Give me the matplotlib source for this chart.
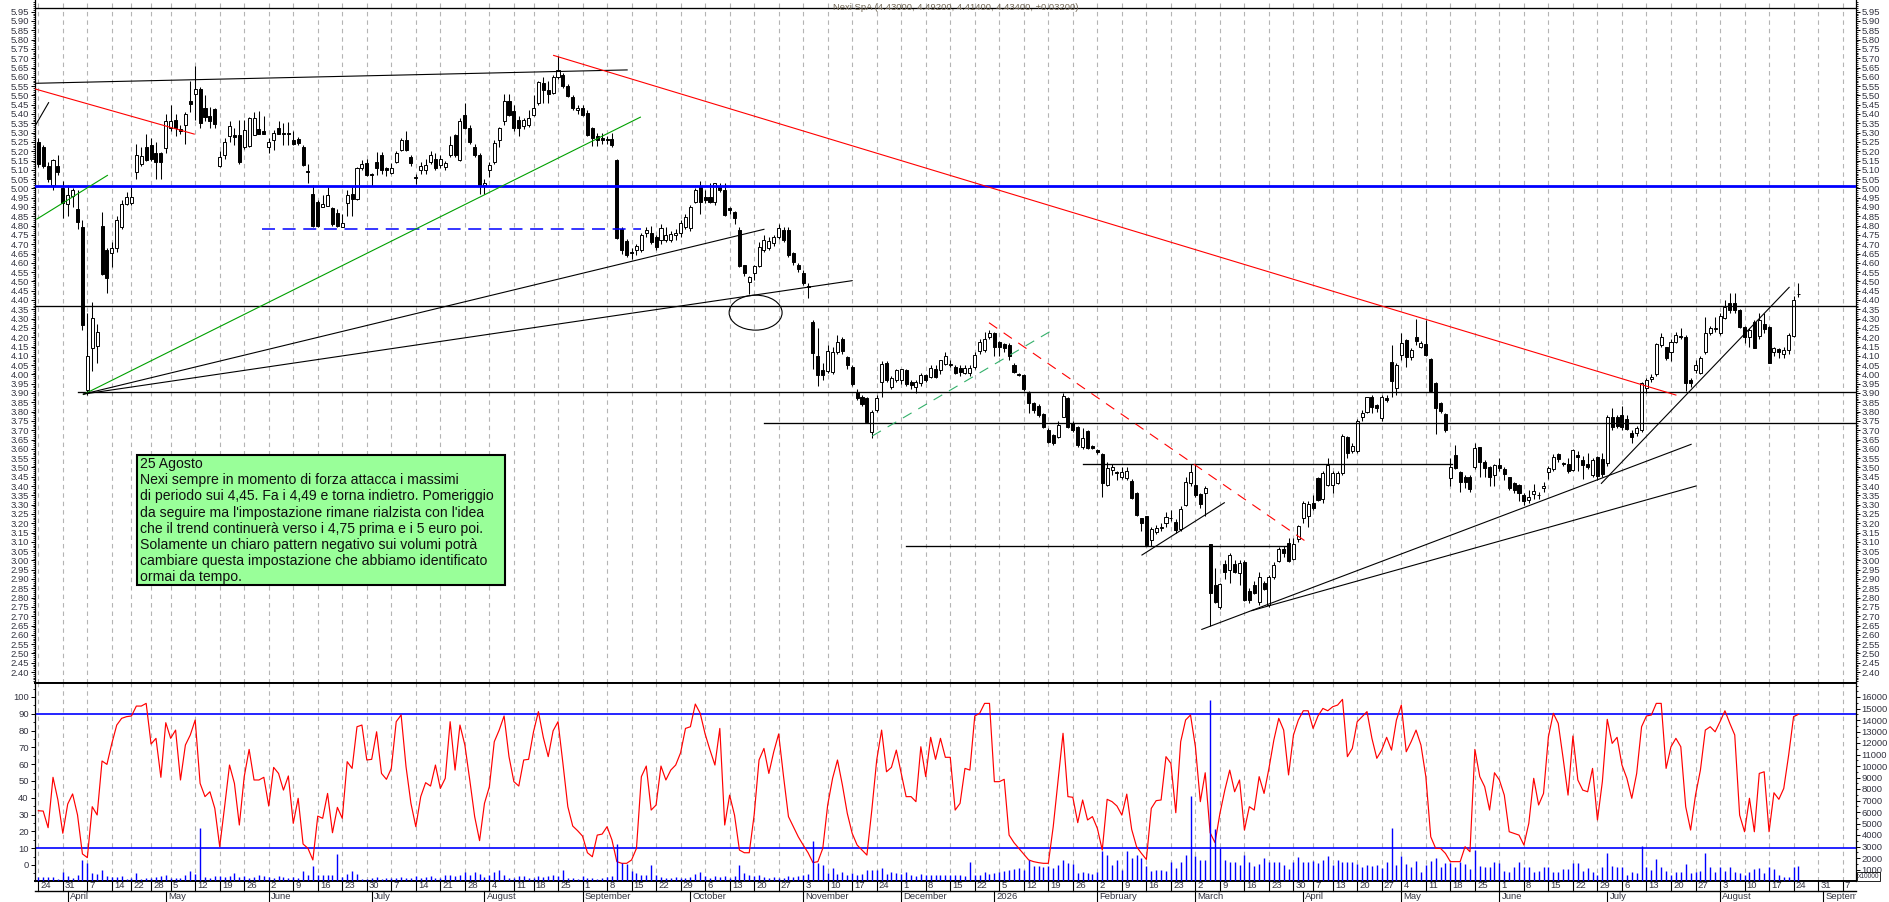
import matplotlib
matplotlib.use('Agg')
import matplotlib.pyplot as plt
from matplotlib.patches import Rectangle, Ellipse
from matplotlib.lines import Line2D
from matplotlib.ticker import FixedLocator, FormatStrFormatter
from matplotlib.transforms import Bbox, TransformedBbox, blended_transform_factory
import numpy as np
import pandas as pd

plt.rcParams['font.family'] = ['Liberation Sans', 'DejaVu Sans']

# ============================================================================
# Data (daily bars, Borsa Italiana calendar)
# ============================================================================
TICKER = 'Nexi SpA'
START_DATE = '2025-03-24'
AXIS_END_DATE = '2026-09-11'
HOLIDAYS = ['2025-04-18', '2025-04-21', '2025-05-01', '2025-08-15',
            '2025-12-24', '2025-12-25', '2025-12-26', '2025-12-31',
            '2026-01-01', '2026-04-03', '2026-04-06', '2026-05-01']
HIDDEN_WEEK_TICKS = ['2025-12-29']

opens = [
    5.25, 5.22, 5.12, 5.02, 5.12, 5.00, 4.915, 4.96, 4.89, 4.79,
    3.915, 4.14, 4.15, 4.80, 4.667, 4.65, 4.68, 4.79, 4.917, 4.92,
    5.09, 5.129, 5.225, 5.234, 5.19, 5.19, 5.216, 5.325, 5.37, 5.32,
    5.343, 5.47, 5.51, 5.534, 5.434, 5.388, 5.425, 5.121, 5.18, 5.28,
    5.288, 5.289, 5.225, 5.23, 5.288, 5.32, 5.31, 5.225, 5.261, 5.325,
    5.30, 5.30, 5.262, 5.267, 5.225, 5.095, 4.971, 4.925, 4.898, 4.907,
    4.893, 4.87, 4.794, 4.922, 4.97, 4.943, 5.11, 5.134, 5.08, 5.143,
    5.18, 5.107, 5.085, 5.143, 5.207, 5.262, 5.17, 5.062, 5.10, 5.10,
    5.143, 5.16, 5.125, 5.116, 5.18, 5.286, 5.152, 5.397, 5.325, 5.225,
    5.18, 5.02, 5.10, 5.143, 5.26, 5.36, 5.47, 5.416, 5.37, 5.334,
    5.343, 5.397, 5.46, 5.565, 5.53, 5.515, 5.597, 5.607, 5.55, 5.49,
    5.42, 5.434, 5.407, 5.325, 5.28, 5.27, 5.268, 5.268, 5.152, 4.78,
    4.716, 4.66, 4.669, 4.669, 4.758, 4.758, 4.74, 4.722, 4.722, 4.722,
    4.75, 4.758, 4.794, 4.785, 4.928, 5.009, 4.955, 4.952, 4.928, 5.01,
    4.99, 4.893, 4.875, 4.776, 4.588, 4.498, 4.543, 4.583, 4.669, 4.678,
    4.705, 4.74, 4.776, 4.776, 4.65, 4.588, 4.543, 4.477, 4.283, 4.099,
    4.023, 4.02, 4.011, 4.122, 4.188, 4.095, 4.041, 3.907, 3.88, 3.871,
    3.692, 3.808, 3.961, 4.06, 3.934, 3.97, 3.97, 4.023, 3.961, 3.934,
    3.952, 3.997, 3.988, 4.027, 4.023, 4.056, 4.05, 4.041, 4.032, 4.006,
    4.006, 4.041, 4.127, 4.131, 4.203, 4.221, 4.176, 4.163, 4.158, 4.05,
    4.002, 3.997, 3.902, 3.844, 3.83, 3.787, 3.701, 3.674, 3.665, 3.773,
    3.871, 3.737, 3.715, 3.611, 3.697, 3.615, 3.593, 3.572, 3.405, 3.486,
    3.477, 3.446, 3.441, 3.428, 3.36, 3.226, 3.238, 3.11, 3.154, 3.176,
    3.199, 3.229, 3.208, 3.167, 3.298, 3.414, 3.405, 3.357, 3.36, 3.086,
    2.868, 2.751, 2.98, 2.948, 2.98, 2.93, 2.993, 2.837, 2.868, 2.778,
    2.88, 2.76, 2.909, 2.999, 3.06, 3.095, 3.01, 3.113, 3.226, 3.239,
    3.31, 3.441, 3.328, 3.405, 3.405, 3.418, 3.468, 3.665, 3.59, 3.59,
    3.769, 3.80, 3.877, 3.836, 3.764, 3.871, 4.068, 3.925, 4.104, 4.185,
    4.092, 4.199, 4.149, 4.163, 4.081, 3.952, 3.848, 3.787, 3.441, 3.567,
    3.477, 3.45, 3.45, 3.504, 3.608, 3.531, 3.504, 3.459, 3.513, 3.49,
    3.447, 3.414, 3.405, 3.352, 3.325, 3.357, 3.35, 3.387, 3.477, 3.49,
    3.572, 3.526, 3.518, 3.486, 3.567, 3.54, 3.518, 3.459, 3.554, 3.543,
    3.522, 3.769, 3.773, 3.782, 3.758, 3.687, 3.683, 3.701, 3.925, 3.974,
    4.002, 4.158, 4.149, 4.122, 4.176, 4.207, 4.203, 3.97, 4.024, 4.006,
    4.122, 4.224, 4.245, 4.221, 4.301, 4.386, 4.386, 4.346, 4.253, 4.203,
    4.284, 4.208, 4.271, 4.257, 4.122, 4.135, 4.11, 4.131, 4.208, 4.430,
]
highs = [
    5.27, 5.235, 5.14, 5.16, 5.18, 5.04, 5.016, 5.00, 4.99, 4.83,
    4.33, 4.39, 4.27, 4.875, 4.68, 4.71, 4.85, 4.935, 4.98, 5.01,
    5.24, 5.225, 5.29, 5.27, 5.25, 5.195, 5.40, 5.45, 5.40, 5.34,
    5.41, 5.58, 5.656, 5.543, 5.50, 5.44, 5.43, 5.20, 5.27, 5.36,
    5.325, 5.37, 5.37, 5.383, 5.41, 5.415, 5.39, 5.27, 5.316, 5.365,
    5.352, 5.357, 5.31, 5.275, 5.234, 5.13, 5.02, 4.935, 4.962, 5.007,
    4.898, 4.89, 4.862, 4.99, 5.007, 5.116, 5.152, 5.158, 5.085, 5.198,
    5.194, 5.116, 5.134, 5.202, 5.27, 5.31, 5.18, 5.08, 5.14, 5.16,
    5.20, 5.19, 5.18, 5.15, 5.28, 5.29, 5.38, 5.46, 5.34, 5.24,
    5.19, 5.05, 5.14, 5.26, 5.33, 5.51, 5.51, 5.45, 5.39, 5.38,
    5.42, 5.50, 5.58, 5.60, 5.58, 5.61, 5.71, 5.62, 5.56, 5.50,
    5.45, 5.45, 5.42, 5.33, 5.30, 5.30, 5.28, 5.30, 5.16, 4.79,
    4.73, 4.68, 4.70, 4.76, 4.79, 4.80, 4.75, 4.81, 4.79, 4.77,
    4.78, 4.83, 4.86, 4.91, 5.00, 5.04, 4.99, 5.03, 5.03, 5.03,
    5.03, 4.90, 4.88, 4.79, 4.59, 4.53, 4.59, 4.71, 4.75, 4.74,
    4.75, 4.81, 4.79, 4.79, 4.66, 4.60, 4.56, 4.49, 4.29, 4.25,
    4.06, 4.16, 4.15, 4.21, 4.20, 4.10, 4.05, 3.92, 3.89, 3.88,
    3.81, 3.89, 4.07, 4.07, 3.99, 4.03, 4.03, 4.03, 3.97, 3.97,
    4.01, 4.00, 4.05, 4.05, 4.08, 4.12, 4.08, 4.05, 4.05, 4.05,
    4.05, 4.12, 4.19, 4.23, 4.24, 4.23, 4.18, 4.17, 4.17, 4.06,
    4.01, 4.00, 3.91, 3.85, 3.84, 3.79, 3.71, 3.68, 3.75, 3.90,
    3.88, 3.75, 3.72, 3.71, 3.70, 3.62, 3.60, 3.58, 3.53, 3.52,
    3.48, 3.50, 3.50, 3.44, 3.37, 3.23, 3.24, 3.18, 3.19, 3.20,
    3.26, 3.27, 3.22, 3.29, 3.45, 3.52, 3.52, 3.36, 3.40, 3.09,
    2.96, 2.88, 3.00, 3.04, 3.00, 3.00, 3.00, 2.85, 2.89, 2.94,
    2.89, 2.92, 2.99, 3.07, 3.08, 3.12, 3.12, 3.19, 3.32, 3.32,
    3.35, 3.45, 3.48, 3.55, 3.48, 3.48, 3.68, 3.67, 3.63, 3.76,
    3.81, 3.88, 3.89, 3.84, 3.89, 3.89, 4.16, 4.06, 4.22, 4.19,
    4.14, 4.30, 4.18, 4.29, 4.09, 3.96, 3.85, 3.79, 3.55, 3.62,
    3.48, 3.46, 3.46, 3.63, 3.61, 3.54, 3.51, 3.52, 3.55, 3.50,
    3.45, 3.42, 3.41, 3.36, 3.38, 3.41, 3.37, 3.42, 3.51, 3.57,
    3.58, 3.53, 3.55, 3.60, 3.59, 3.56, 3.58, 3.55, 3.56, 3.58,
    3.78, 3.82, 3.78, 3.83, 3.78, 3.70, 3.72, 3.96, 3.98, 4.00,
    4.17, 4.22, 4.15, 4.19, 4.23, 4.25, 4.21, 3.98, 4.08, 4.10,
    4.31, 4.26, 4.31, 4.33, 4.40, 4.44, 4.44, 4.35, 4.26, 4.25,
    4.29, 4.33, 4.33, 4.26, 4.15, 4.14, 4.15, 4.22, 4.42, 4.492,
]
lows = [
    5.115, 5.11, 5.035, 4.99, 5.07, 4.84, 4.85, 4.90, 4.78, 4.24,
    3.89, 4.02, 4.06, 4.535, 4.44, 4.58, 4.66, 4.78, 4.91, 4.91,
    5.05, 5.12, 5.15, 5.15, 5.05, 5.05, 5.19, 5.31, 5.28, 5.29,
    5.24, 5.41, 5.37, 5.325, 5.365, 5.325, 5.325, 5.115, 5.16, 5.25,
    5.235, 5.13, 5.21, 5.225, 5.288, 5.29, 5.29, 5.19, 5.207, 5.29,
    5.234, 5.234, 5.234, 5.234, 5.121, 5.03, 4.79, 4.79, 4.898, 4.903,
    4.80, 4.79, 4.79, 4.853, 4.85, 4.935, 5.10, 5.067, 5.012, 5.07,
    5.08, 5.067, 5.08, 5.134, 5.20, 5.20, 5.12, 5.025, 5.08, 5.08,
    5.13, 5.10, 5.11, 5.10, 5.17, 5.17, 5.15, 5.32, 5.24, 5.17,
    4.97, 4.97, 5.06, 5.13, 5.22, 5.34, 5.39, 5.31, 5.28, 5.32,
    5.33, 5.39, 5.45, 5.46, 5.46, 5.51, 5.59, 5.54, 5.49, 5.42,
    5.40, 5.39, 5.28, 5.23, 5.23, 5.24, 5.24, 5.22, 4.73, 4.65,
    4.63, 4.62, 4.64, 4.66, 4.74, 4.70, 4.67, 4.70, 4.71, 4.71,
    4.72, 4.74, 4.78, 4.77, 4.92, 4.86, 4.92, 4.92, 4.91, 4.98,
    4.85, 4.86, 4.81, 4.58, 4.53, 4.43, 4.51, 4.58, 4.66, 4.67,
    4.69, 4.73, 4.71, 4.63, 4.59, 4.55, 4.48, 4.41, 4.03, 3.94,
    3.97, 4.01, 4.00, 4.11, 4.11, 4.03, 3.94, 3.86, 3.83, 3.74,
    3.66, 3.80, 3.88, 3.96, 3.92, 3.96, 3.95, 3.94, 3.92, 3.90,
    3.94, 3.96, 3.98, 3.98, 4.00, 4.05, 4.04, 4.00, 3.99, 4.00,
    3.99, 4.03, 4.11, 4.12, 4.19, 4.10, 4.10, 4.12, 4.08, 4.01,
    3.99, 3.91, 3.79, 3.79, 3.77, 3.71, 3.63, 3.62, 3.66, 3.77,
    3.71, 3.69, 3.61, 3.60, 3.60, 3.60, 3.57, 3.34, 3.40, 3.46,
    3.43, 3.44, 3.43, 3.33, 3.24, 3.16, 3.08, 3.08, 3.14, 3.16,
    3.18, 3.21, 3.15, 3.16, 3.29, 3.40, 3.34, 3.28, 3.24, 2.65,
    2.77, 2.74, 2.90, 2.88, 2.93, 2.87, 2.78, 2.77, 2.82, 2.76,
    2.84, 2.75, 2.90, 2.99, 3.02, 2.99, 3.00, 3.10, 3.20, 3.18,
    3.27, 3.32, 3.31, 3.40, 3.36, 3.41, 3.46, 3.55, 3.58, 3.58,
    3.75, 3.79, 3.79, 3.80, 3.75, 3.85, 3.88, 3.89, 4.08, 4.04,
    4.08, 4.16, 4.14, 4.10, 3.91, 3.68, 3.79, 3.69, 3.40, 3.49,
    3.37, 3.39, 3.37, 3.49, 3.45, 3.45, 3.40, 3.40, 3.48, 3.43,
    3.38, 3.36, 3.32, 3.30, 3.31, 3.33, 3.33, 3.37, 3.44, 3.48,
    3.53, 3.51, 3.47, 3.48, 3.48, 3.44, 3.49, 3.45, 3.43, 3.45,
    3.51, 3.70, 3.71, 3.70, 3.70, 3.63, 3.67, 3.69, 3.90, 3.96,
    3.99, 4.15, 4.08, 4.07, 4.17, 4.19, 3.91, 3.93, 4.01, 4.00,
    4.11, 4.21, 4.23, 4.21, 4.30, 4.33, 4.33, 4.25, 4.17, 4.15,
    4.14, 4.19, 4.22, 4.06, 4.10, 4.09, 4.09, 4.11, 4.20, 4.414,
]
closes = [
    5.13, 5.12, 5.05, 5.155, 5.09, 4.92, 4.967, 4.99, 4.82, 4.265,
    4.10, 4.305, 4.23, 4.54, 4.52, 4.68, 4.83, 4.917, 4.953, 4.955,
    5.18, 5.176, 5.152, 5.16, 5.143, 5.143, 5.361, 5.36, 5.325, 5.31,
    5.398, 5.452, 5.534, 5.352, 5.383, 5.361, 5.347, 5.17, 5.252, 5.333,
    5.274, 5.143, 5.316, 5.376, 5.376, 5.292, 5.292, 5.252, 5.30, 5.292,
    5.29, 5.29, 5.238, 5.243, 5.125, 5.087, 4.798, 4.80, 4.916, 4.962,
    4.807, 4.80, 4.816, 4.965, 4.943, 5.107, 5.129, 5.07, 5.074, 5.11,
    5.098, 5.098, 5.107, 5.19, 5.262, 5.207, 5.134, 5.057, 5.12, 5.125,
    5.18, 5.107, 5.16, 5.134, 5.234, 5.18, 5.36, 5.325, 5.252, 5.18,
    5.016, 5.03, 5.125, 5.243, 5.325, 5.47, 5.397, 5.325, 5.325, 5.37,
    5.376, 5.434, 5.57, 5.53, 5.51, 5.597, 5.637, 5.55, 5.497, 5.434,
    5.43, 5.397, 5.289, 5.27, 5.26, 5.262, 5.262, 5.235, 4.735, 4.67,
    4.644, 4.65, 4.69, 4.749, 4.776, 4.713, 4.687, 4.785, 4.749, 4.753,
    4.758, 4.812, 4.848, 4.90, 4.99, 4.928, 4.937, 4.928, 5.027, 4.99,
    4.857, 4.885, 4.84, 4.583, 4.547, 4.525, 4.583, 4.683, 4.722, 4.719,
    4.74, 4.785, 4.722, 4.642, 4.606, 4.565, 4.493, 4.472, 4.113, 3.997,
    3.997, 4.127, 4.122, 4.176, 4.127, 4.05, 3.946, 3.875, 3.839, 3.746,
    3.80, 3.871, 4.056, 3.97, 3.979, 4.023, 4.027, 3.946, 3.943, 3.961,
    3.997, 3.97, 4.032, 3.988, 4.077, 4.099, 4.055, 4.006, 4.015, 4.032,
    4.036, 4.104, 4.176, 4.188, 4.221, 4.145, 4.149, 4.14, 4.099, 4.015,
    3.995, 3.92, 3.844, 3.808, 3.782, 3.719, 3.638, 3.63, 3.728, 3.884,
    3.715, 3.701, 3.62, 3.656, 3.602, 3.606, 3.584, 3.414, 3.495, 3.50,
    3.472, 3.477, 3.482, 3.333, 3.244, 3.199, 3.083, 3.167, 3.172, 3.181,
    3.231, 3.226, 3.163, 3.274, 3.423, 3.477, 3.351, 3.303, 3.387, 2.823,
    2.778, 2.873, 2.939, 3.029, 2.939, 2.984, 2.787, 2.787, 2.823, 2.909,
    2.845, 2.909, 2.975, 3.06, 3.04, 2.999, 3.09, 3.185, 3.31, 3.303,
    3.28, 3.325, 3.468, 3.513, 3.468, 3.468, 3.669, 3.576, 3.615, 3.751,
    3.794, 3.877, 3.823, 3.818, 3.877, 3.862, 3.966, 4.05, 4.167, 4.095,
    4.131, 4.181, 4.167, 4.104, 3.913, 3.818, 3.805, 3.701, 3.50, 3.495,
    3.423, 3.423, 3.382, 3.603, 3.531, 3.495, 3.45, 3.513, 3.495, 3.465,
    3.387, 3.379, 3.364, 3.321, 3.343, 3.375, 3.352, 3.40, 3.495, 3.558,
    3.543, 3.518, 3.482, 3.594, 3.558, 3.513, 3.504, 3.54, 3.454, 3.464,
    3.769, 3.716, 3.723, 3.719, 3.705, 3.665, 3.71, 3.952, 3.97, 3.988,
    4.163, 4.203, 4.086, 4.176, 4.212, 4.203, 3.952, 3.952, 4.05, 4.086,
    4.224, 4.248, 4.25, 4.314, 4.364, 4.346, 4.346, 4.257, 4.203, 4.239,
    4.14, 4.293, 4.242, 4.063, 4.14, 4.122, 4.131, 4.212, 4.402, 4.434,
]
# stochastic oscillator (0-100, left scale)
stoch = [
    32.3, 32.1, 22.2, 52.2, 38.7, 18.9, 36.3, 42.3, 29.8, 6.6,
    4.4, 34.7, 29.8, 61.9, 59.9, 72.4, 83.3, 87.3, 88.3, 88.7,
    94.6, 94.6, 96.2, 72.0, 75.4, 52.2, 84.7, 75.4, 80.3, 50.6,
    71.4, 77.4, 86.3, 48.6, 40.7, 43.6, 33.7, 10.9, 34.7, 59.5,
    48.6, 23.8, 52.6, 68.8, 50.6, 50.6, 52.2, 35.1, 58.1, 54.5,
    44.6, 53.0, 24.8, 39.7, 12.5, 9.9, 3.0, 29.1, 27.8, 42.6,
    19.2, 34.3, 27.8, 61.5, 57.5, 82.3, 83.3, 62.5, 62.9, 79.3,
    54.5, 51.0, 57.5, 85.3, 89.3, 58.5, 36.7, 22.8, 40.7, 49.0,
    47.0, 59.5, 45.6, 51.6, 85.3, 56.5, 83.3, 71.4, 50.6, 28.8,
    14.5, 36.7, 46.6, 73.4, 80.3, 88.7, 64.5, 49.6, 47.0, 62.5,
    62.9, 79.3, 91.3, 76.0, 64.5, 79.9, 85.3, 60.5, 34.7, 23.2,
    20.4, 17.2, 7.3, 4.9, 17.8, 18.4, 22.8, 14.9, 2.0, 1.0,
    1.0, 3.0, 9.9, 52.6, 58.9, 32.7, 35.7, 58.9, 50.6, 56.5,
    59.5, 66.8, 81.3, 82.3, 95.8, 90.3, 78.0, 68.4, 59.5, 81.3,
    23.8, 41.6, 29.7, 8.9, 7.3, 7.3, 29.7, 62.5, 69.4, 54.5,
    67.4, 78.0, 52.6, 28.8, 22.8, 16.8, 11.9, 7.3, 1.4, 2.0,
    9.9, 35.7, 51.6, 62.5, 47.6, 30.7, 18.8, 11.9, 8.9, 5.9,
    32.7, 62.5, 80.3, 55.5, 58.1, 68.4, 54.5, 40.7, 40.7, 37.7,
    70.4, 52.6, 76.0, 62.9, 75.4, 64.1, 64.1, 32.7, 36.7, 57.5,
    56.5, 88.7, 90.3, 96.2, 96.2, 49.6, 49.6, 51.0, 17.8, 13.3,
    9.9, 6.5, 3.0, 2.0, 1.4, 1.0, 1.0, 22.8, 50.6, 78.4,
    40.7, 40.3, 25.2, 38.7, 26.8, 28.8, 21.8, 8.9, 39.1, 37.7,
    35.1, 29.7, 42.2, 21.2, 10.9, 6.9, 3.3, 33.7, 38.3, 38.7,
    64.5, 60.5, 31.1, 73.4, 86.3, 89.3, 70.4, 37.7, 54.9, 19.2,
    13.3, 30.7, 44.6, 56.5, 43.6, 50.6, 20.8, 34.7, 32.7, 52.6,
    42.6, 57.5, 74.4, 87.3, 80.3, 53.6, 77.4, 86.3, 91.8, 91.8,
    81.3, 88.7, 93.2, 91.8, 94.2, 95.2, 98.6, 64.5, 69.4, 85.3,
    88.3, 91.3, 75.4, 63.5, 68.4, 76.0, 68.4, 86.3, 95.2, 67.4,
    73.4, 80.3, 71.4, 52.6, 16.8, 9.9, 9.9, 6.9, 2.0, 2.0,
    2.0, 10.9, 7.9, 68.8, 52.6, 46.6, 32.7, 54.9, 50.6, 41.6,
    19.8, 18.8, 17.8, 11.9, 24.8, 51.6, 35.7, 42.6, 76.4, 90.3,
    84.3, 63.5, 41.6, 76.8, 50.6, 44.6, 43.6, 57.5, 26.8, 49.6,
    86.7, 72.4, 76.0, 59.5, 51.6, 39.7, 54.5, 82.3, 88.7, 89.3,
    96.2, 96.2, 57.5, 70.4, 75.4, 70.4, 34.7, 20.8, 41.6, 56.5,
    80.3, 82.3, 79.3, 85.3, 91.8, 84.3, 77.4, 29.7, 19.8, 39.7,
    19.8, 54.5, 55.5, 19.8, 43.0, 39.1, 45.6, 65.5, 88.3, 89.7,
]
# volume in units of 10000 shares (right scale)
volume = [
    350, 350, 350, 350, 200, 800, 450, 250, 550, 1800,
    1550, 700, 650, 950, 400, 350, 350, 400, 200, 300,
    700, 200, 250, 250, 350, 400, 550, 250, 250, 300,
    500, 900, 650, 4600, 350, 300, 400, 450, 350, 450,
    700, 350, 450, 300, 350, 550, 450, 350, 300, 450,
    350, 300, 350, 300, 850, 550, 1300, 500, 500, 550,
    550, 2350, 350, 650, 850, 600, 200, 200, 250, 350,
    200, 300, 300, 250, 350, 300, 250, 400, 300, 350,
    450, 300, 250, 500, 550, 450, 550, 750, 550, 750,
    650, 350, 550, 750, 950, 500, 300, 250, 400, 450,
    250, 300, 450, 350, 450, 500, 400, 950, 250, 300,
    200, 400, 300, 250, 200, 250, 350, 400, 3200, 1550,
    1450, 850, 700, 500, 550, 1350, 500, 350, 300, 250,
    350, 300, 250, 350, 650, 800, 400, 300, 450, 350,
    400, 250, 400, 1350, 700, 500, 450, 550, 350, 300,
    350, 300, 250, 400, 350, 450, 500, 650, 3480, 1550,
    1350, 700, 1100, 600, 800, 500, 700, 550, 600, 940,
    940, 940, 1100, 600, 800, 700, 650, 800, 550, 450,
    650, 500, 550, 500, 539, 480, 480, 480, 480, 421,
    1635, 539, 480, 740, 624, 682, 740, 827, 972, 1030,
    1117, 972, 1842, 1262, 1320, 1204, 1320, 1117, 1407, 1842,
    1552, 1494, 682, 740, 682, 624, 740, 2567, 2277, 1407,
    1842, 972, 2567, 1987, 2277, 1987, 1262, 827, 972, 972,
    827, 1635, 1117, 1635, 2277, 7352, 2160, 1842, 1842, 15704,
    4500, 2857, 1842, 1635, 1610, 1407, 2277, 1610, 1262, 1494,
    1987, 1635, 1610, 1635, 1407, 1030, 1610, 2074, 1610, 1610,
    1780, 1552, 1842, 2190, 1407, 1842, 1635, 1610, 1635, 1494,
    1204, 1407, 1262, 1407, 1117, 1610, 4597, 1407, 2170, 1480,
    1250, 1770, 740, 1390, 1770, 1970, 1250, 1600, 1600, 1250,
    1680, 1480, 1070, 2690, 1300, 1200, 1200, 1680, 1540, 900,
    810, 1250, 1680, 1200, 1200, 740, 900, 1250, 1250, 810,
    810, 1010, 1010, 1540, 1540, 900, 1100, 740, 520, 1200,
    2400, 1300, 1200, 1200, 520, 810, 670, 3050, 1200, 960,
    1880, 1200, 900, 520, 740, 740, 1480, 670, 740, 900,
    2460, 1200, 810, 1200, 900, 1250, 740, 670, 520, 810,
    1010, 1100, 670, 1200, 1010, 520, 380, 380, 1200, 1300,
]
STOCH_LEVELS = [10, 90]

# analyst drawings, in (bar index, price)
trend_lines = [
    ((-0.7, 5.565), (120.1, 5.637), 'black', '-'),
    ((-0.7, 5.535), (31.8, 5.292), 'red', '-'),
    ((-0.5, 5.343), (2.1, 5.461), 'black', '-'),
    ((-0.3, 4.835), (14.1, 5.070), 'green', '-'),
    ((9.2, 3.892), (122.8, 5.383), 'green', '-'),
    ((9.2, 3.894), (148.0, 4.780), 'black', '-'),
    ((9.2, 3.894), (166.0, 4.504), 'black', '-'),
    ((105.1, 5.715), (334.0, 3.889), 'red', '-'),
    ((170.1, 3.669), (206.9, 4.239), 'dgreen', '--'),
    ((193.9, 4.278), (258.9, 3.095), 'red', '--'),
    ((225.1, 3.029), (241.9, 3.310), 'black', '-'),
    ((237.3, 2.629), (337.1, 3.624), 'black', '-'),
    ((247.5, 2.730), (338.1, 3.400), 'black', '-'),
    ((318.8, 3.414), (357.1, 4.468), 'black', '-'),
]
# horizontal levels: (price, from bar, to bar or None = edge)
levels = [
    (5.968, None, None, 'black'),
    (5.015, None, None, 'blue'),
    (4.370, None, None, 'black'),
    (3.905, 8.1, None, 'black'),
    (3.740, 148.0, None, 'black'),
    (3.518, 213.0, 288.3, 'black'),
    (3.080, 177.0, 254.7, 'black'),
    (4.780, 45.7, 123.0, 'bluedash'),
]
circle_mark = (146.3, 4.332, 10.8, 0.188)  # centre bar, centre price, width, height

NOTE_LINES = [
    '25 Agosto',
    'Nexi sempre in momento di forza attacca i massimi',
    'di periodo sui 4,45. Fa i 4,49 e torna indietro. Pomeriggio',
    "da seguire ma l'impostazione rimane rialzista con l'idea",
    'che il trend continuerà verso i 4,75 prima e i 5 euro poi.',
    'Solamente un chiaro pattern negativo sui volumi potrà',
    'cambiare questa impostazione che abbiamo identificato',
    'ormai da tempo.',
]
MONTHS = ['January', 'February', 'March', 'April', 'May', 'June', 'July',
          'August', 'September', 'October', 'November', 'December']

# ============================================================================
# Layout (pixels of the 1890x902 output)
# ============================================================================
W, H, DPI = 1890, 902, 100
LEFT_PX, RIGHT_PX = 35, 1856
PRICE_TOP_PX, SPLIT_PX, BOTTOM_PX = 0, 683, 881
X0_PX, DAY_PX = 38.3, 4.903          # centre of first bar, bar spacing
PRICE_REF, PRICE_REF_PX, PX_PER_EUR = 2.40, 672, 186.0
STOCH_ZERO_PX, PX_PER_STOCH = 865, 1.68
PX_PER_VOL = 11.5 / 1000
LABEL_COLOR = '#33333f'
FS = 6.8


def fx(px):
    return px / W


def fy(py):
    return 1 - py / H


COLORS = {'black': 'black', 'red': '#ff0000', 'green': '#00a000',
          'dgreen': '#33b06a', 'blue': '#0000ff', 'bluedash': '#0000ff'}

# calendar
dates = pd.bdate_range(START_DATE, AXIS_END_DATE, freq='C', holidays=HOLIDAYS)
n = len(closes)
idx = np.arange(n)
o, h, l, c = map(np.array, (opens, highs, lows, closes))

fig = plt.figure(figsize=(W / DPI, H / DPI), dpi=DPI)
ax = fig.add_axes([fx(LEFT_PX), fy(SPLIT_PX), fx(RIGHT_PX) - fx(LEFT_PX), fy(PRICE_TOP_PX) - fy(SPLIT_PX)])
ax2 = fig.add_axes([fx(LEFT_PX), fy(BOTTOM_PX), fx(RIGHT_PX) - fx(LEFT_PX), fy(SPLIT_PX) - fy(BOTTOM_PX)])
axv = ax2.twinx()

xlim = ((LEFT_PX - X0_PX) / DAY_PX, (RIGHT_PX - X0_PX) / DAY_PX)
for a in (ax, ax2, axv):
    a.set_xlim(*xlim)
    a.tick_params(axis='x', which='both', bottom=False, top=False, labelbottom=False)
ax.set_ylim(PRICE_REF - (SPLIT_PX - PRICE_REF_PX) / PX_PER_EUR,
            PRICE_REF + (PRICE_REF_PX - PRICE_TOP_PX) / PX_PER_EUR)
ax2.set_ylim((STOCH_ZERO_PX - BOTTOM_PX) / PX_PER_STOCH, (STOCH_ZERO_PX - SPLIT_PX) / PX_PER_STOCH)
axv.set_ylim(0, (BOTTOM_PX - SPLIT_PX) / PX_PER_VOL)

# week / month ticks
ds = pd.Series(dates)
iso = ds.dt.isocalendar()
wkey = iso['year'].astype(int) * 100 + iso['week'].astype(int)
week_first = (wkey != wkey.shift()).values
week_first &= ~ds.isin(pd.to_datetime(HIDDEN_WEEK_TICKS)).values
month_first = (ds.dt.month != ds.dt.month.shift()).values
month_first[0] = False
week_pos = np.where(week_first)[0]
month_pos = np.where(month_first)[0]

for a in (ax, ax2):
    for p in week_pos:
        a.axvline(p, color='#b4b4b4', lw=0.8, ls=(0, (4, 3.6)), zorder=0)

# candles
up = c >= o
body_lo = np.minimum(o, c)
body_h = np.maximum(np.abs(c - o), 0.004)
ax.vlines(idx, l, h, color='black', lw=0.75, zorder=2)
ax.bar(idx, body_h, bottom=body_lo, width=0.62, color=np.where(up, 'white', 'black'),
       edgecolor='black', linewidth=0.7, zorder=2.5)

# horizontal levels and trend lines
for price, x_from, x_to, col in levels:
    xa = xlim[0] if x_from is None else x_from
    xb = xlim[1] if x_to is None else x_to
    if col == 'bluedash':
        ax.plot([xa, xb], [price, price], color=COLORS[col], lw=1.1, ls=(0, (8.5, 5)), zorder=3)
    elif col == 'blue':
        ax.plot([xa, xb], [price, price], color=COLORS[col], lw=2.0, zorder=3)
    else:
        ax.plot([xa, xb], [price, price], color=COLORS[col], lw=0.95, zorder=3)
for (x0, y0), (x1, y1), col, ls in trend_lines:
    style = (0, (9, 7)) if ls == '--' else '-'
    ax.plot([x0, x1], [y0, y1], color=COLORS[col], lw=0.8, ls=style, zorder=3)
cx, cy, cw, ch = circle_mark
ax.add_patch(Ellipse((cx, cy), cw, ch, fill=False, ec='black', lw=0.8, zorder=3))

# lower panel: stochastic + volume
for lv in STOCH_LEVELS:
    ax2.axhline(lv, color='#0000ff', lw=1.2, zorder=2)
ax2.plot(idx, stoch, color='#ff0000', lw=0.85, zorder=3)
axv.vlines(idx, 0, volume, color='#0000ff', lw=1.0)

# y axes
ax.yaxis.set_major_locator(FixedLocator(np.round(np.arange(2.40, 5.951, 0.05), 2)))
ax.yaxis.set_minor_locator(FixedLocator(np.round(np.arange(2.35, 6.01, 0.01), 2)))
ax.yaxis.set_major_formatter(FormatStrFormatter('%.2f'))
ax.tick_params(axis='y', which='major', direction='out', length=3, width=0.7,
               left=True, right=True, labelleft=True, labelright=True,
               labelsize=FS, labelcolor=LABEL_COLOR, pad=1)
ax.tick_params(axis='y', which='minor', direction='out', length=1.5, width=0.6, left=True, right=True)

ax2.yaxis.set_major_locator(FixedLocator(range(0, 101, 10)))
ax2.yaxis.set_minor_locator(FixedLocator(range(-5, 106, 5)))
ax2.tick_params(axis='y', which='major', direction='out', length=3, width=0.7,
                left=True, right=False, labelleft=True, labelright=False,
                labelsize=FS, labelcolor=LABEL_COLOR, pad=1.5)
ax2.tick_params(axis='y', which='minor', direction='out', length=1.5, width=0.6, left=True, right=False)
axv.yaxis.set_major_locator(FixedLocator(range(1000, 16001, 1000)))
axv.yaxis.set_minor_locator(FixedLocator(range(500, 17001, 500)))
axv.tick_params(axis='y', which='major', direction='out', length=3, width=0.7,
                left=False, right=True, labelleft=False, labelright=True,
                labelsize=FS, labelcolor=LABEL_COLOR, pad=1)
axv.tick_params(axis='y', which='minor', direction='out', length=1.5, width=0.6, left=False, right=True)

ax.spines['top'].set_visible(False)
for s in ('left', 'right'):
    ax.spines[s].set_linewidth(0.9)
    ax2.spines[s].set_linewidth(0.9)
ax.spines['bottom'].set_linewidth(1.4)
ax2.spines['top'].set_linewidth(1.4)
ax2.spines['bottom'].set_linewidth(1.4)
for s in axv.spines.values():
    s.set_visible(False)

# date rows under the lower panel
blend = blended_transform_factory(ax.transData, fig.transFigure)
row_line = fy(890.7)
clip = TransformedBbox(Bbox([[fx(0), fy(H)], [fx(RIGHT_PX), fy(BOTTOM_PX)]]), fig.transFigure)
fig.add_artist(Line2D([fx(LEFT_PX), fx(RIGHT_PX)], [row_line, row_line], color='black', lw=1.0,
                      transform=fig.transFigure))
for p in week_pos:
    fig.add_artist(Line2D([p, p], [fy(BOTTOM_PX), row_line], color='black', lw=0.8, transform=blend))
    t = fig.text(p + 0.45, fy(886), str(dates[p].day), transform=blend, fontsize=FS,
                 color=LABEL_COLOR, ha='left', va='center')
    t.set_clip_box(clip)
    t.set_clip_on(True)
for p in month_pos:
    fig.add_artist(Line2D([p, p], [row_line, fy(H)], color='black', lw=0.8, transform=blend))
    d = dates[p]
    name = str(d.year) if d.month == 1 else MONTHS[d.month - 1]
    t = fig.text(p + 0.45, fy(896.5), name, transform=blend, fontsize=FS,
                 color=LABEL_COLOR, ha='left', va='center')
    t.set_clip_box(clip)
    t.set_clip_on(True)

# header with last bar
chg = c[-1] - c[-2]
fig.text(fx(833), fy(7), f'{TICKER} ({o[-1]:.5f}, {h[-1]:.5f}, {l[-1]:.5f}, {c[-1]:.5f}, {chg:+.5f})',
         fontsize=FS, color='#6f6452', ha='left', va='center')

fig.text(fx(1858), fy(876), 'x10000', fontsize=4.8, color=LABEL_COLOR, ha='left', va='center',
         bbox=dict(boxstyle='square,pad=0.15', fc='white', ec='black', lw=0.6))

# comment box
fig.add_artist(Rectangle((fx(137), fy(585)), fx(505) - fx(137), fy(455) - fy(585),
                         transform=fig.transFigure, fc='#99ff99', ec='black', lw=1.5, zorder=5))
for k, line in enumerate(NOTE_LINES):
    fig.text(fx(140), fy(464 + 16.2 * k), line, fontsize=10.1, color='#101010',
             ha='left', va='center', zorder=6)

fig.savefig('out.png', dpi=DPI)
